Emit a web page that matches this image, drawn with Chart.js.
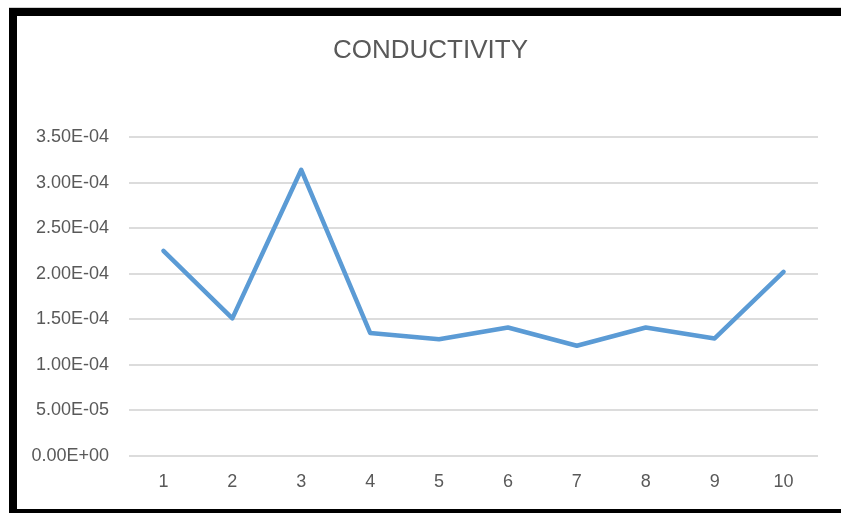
<!DOCTYPE html>
<html>
<head>
<meta charset="utf-8">
<script src="https://cdn.jsdelivr.net/npm/chart.js@4/dist/chart.umd.min.js"></script>
<style>
  html, body { margin: 0; padding: 0; background: #fff; overflow: hidden; }
  #wrap { position: relative; width: 841px; height: 513px; }
  #c { position: absolute; left: 0; top: 0; }
  #frame {
    position: absolute; left: 9px; top: 8px; width: 900px; height: 493px;
    border-left: 8px solid #000; border-top: 8px solid #000; border-bottom: 8px solid #000;
    box-shadow: 0 -1px 0 #d0d0d0; pointer-events: none;
  }
</style>
</head>
<body>
<div id="wrap">
  <canvas id="c" width="841" height="513"></canvas>
  <div id="frame"></div>
</div>
<script>
// Conductivity readings for samples 1–10
const categories = ['1', '2', '3', '4', '5', '6', '7', '8', '9', '10'];
const conductivity = [2.25e-4, 1.51e-4, 3.14e-4, 1.35e-4, 1.28e-4, 1.41e-4, 1.21e-4, 1.41e-4, 1.29e-4, 2.02e-4];
const yMin = 0;
const yMax = 3.5e-4;
const yStep = 5e-5;

// Excel-style scientific labels, e.g. 3.50E-04
function sci(v) {
  if (Math.abs(v) < 1e-12) v = 0;
  const [m, e] = v.toExponential(2).split('e');
  const sign = e[0] === '-' ? '-' : '+';
  const digits = e.replace(/[+-]/, '').padStart(2, '0');
  return m + 'E' + sign + digits;
}

const textColor = '#595959';
const fontFamily = '"Liberation Sans", Arial, sans-serif';

// Centre the title across the framed area rather than the padded layout box
const titleSpan = {
  id: 'titleSpan',
  afterLayout(chart) {
    if (chart.titleBlock) {
      chart.titleBlock.left = 20;
      chart.titleBlock.right = 841;
    }
  }
};

new Chart(document.getElementById('c'), {
  type: 'line',
  data: {
    labels: categories,
    datasets: [{
      data: conductivity,
      borderColor: '#5B9BD5',
      borderWidth: 4.5,
      pointRadius: 0,
      borderJoinStyle: 'round',
      borderCapStyle: 'round',
      tension: 0,
      fill: false
    }]
  },
  plugins: [titleSpan],
  options: {
    responsive: false,
    animation: false,
    devicePixelRatio: 1,
    layout: { padding: { left: 0, right: 23, top: 0, bottom: 0 } },
    plugins: {
      legend: { display: false },
      tooltip: { enabled: false },
      title: {
        display: true,
        text: 'CONDUCTIVITY',
        color: textColor,
        font: { family: fontFamily, size: 26, weight: 'normal', lineHeight: 1.2 },
        padding: { top: 35, bottom: 70.8 }
      }
    },
    scales: {
      x: {
        offset: true,
        grid: { display: false, drawTicks: false },
        border: { display: false },
        ticks: { color: textColor, font: { family: fontFamily, size: 18 }, padding: 15, maxRotation: 0 },
        afterFit: (s) => { s.height = 57; }
      },
      y: {
        min: yMin,
        max: yMax,
        grid: { color: '#dcdcdc', lineWidth: 2, drawTicks: false },
        border: { display: false },
        ticks: {
          stepSize: yStep,
          color: textColor,
          font: { family: fontFamily, size: 18 },
          padding: 20,
          callback: (v) => sci(v)
        },
        afterFit: (s) => { s.width = 129; }
      }
    }
  }
});
</script>
</body>
</html>
